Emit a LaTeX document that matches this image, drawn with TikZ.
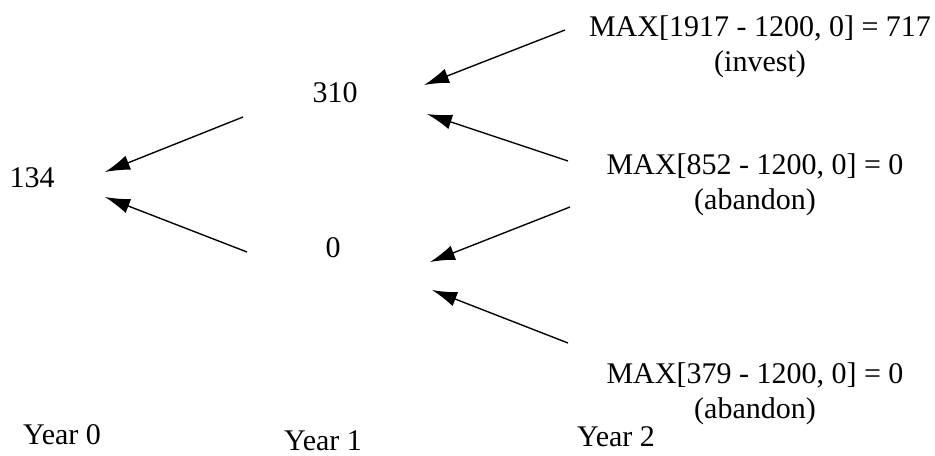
\documentclass[tikz,border=0pt]{standalone}
\usepackage{fontspec}
\setmainfont{Liberation Serif}
\usetikzlibrary{arrows.meta}

\begin{document}
\begin{tikzpicture}[x=0.4pt, y=-0.4pt, font=\fontsize{12}{14}\selectfont,
  val/.style={inner sep=0pt, align=center},
  branch/.style={line width=0.55pt, ->, >={Latex[length=10pt,width=6pt]}}]

% page frame
\useasboundingbox (0,0) rectangle (935,455);

% values of the tree
\node [val] (v0) at (32,178) {134};
\node [val] (vu) at (335,93) {310};
\node [val] (vd) at (333,248) {0};
\node [val] (vuu) at (760,47) {MAX[1917 - 1200, 0] = 717\\(invest)};
\node [val] (vud) at (755,185) {MAX[852 - 1200, 0] = 0\\(abandon)};
\node [val] (vdd) at (755,394) {MAX[379 - 1200, 0] = 0\\(abandon)};

% years
\node [val] (y0) at (62,435) {Year 0};
\node [val] (y1) at (323,441) {Year 1};
\node [val] (y2) at (616,437) {Year 2};

% arrow ends
\coordinate (a1) at (243,117); \coordinate (b1) at (105,172);
\coordinate (a2) at (247,252); \coordinate (b2) at (105,197);
\coordinate (a3) at (565,30);  \coordinate (b3) at (424,85);
\coordinate (a4) at (568,161); \coordinate (b4) at (427,114);
\coordinate (a5) at (570,207); \coordinate (b5) at (430,262);
\coordinate (a6) at (568,343); \coordinate (b6) at (432,290);

% arrows back through the tree
\foreach \i in {1,...,6}
  \draw [branch] (a\i) -- (b\i);

\end{tikzpicture}
\end{document}
